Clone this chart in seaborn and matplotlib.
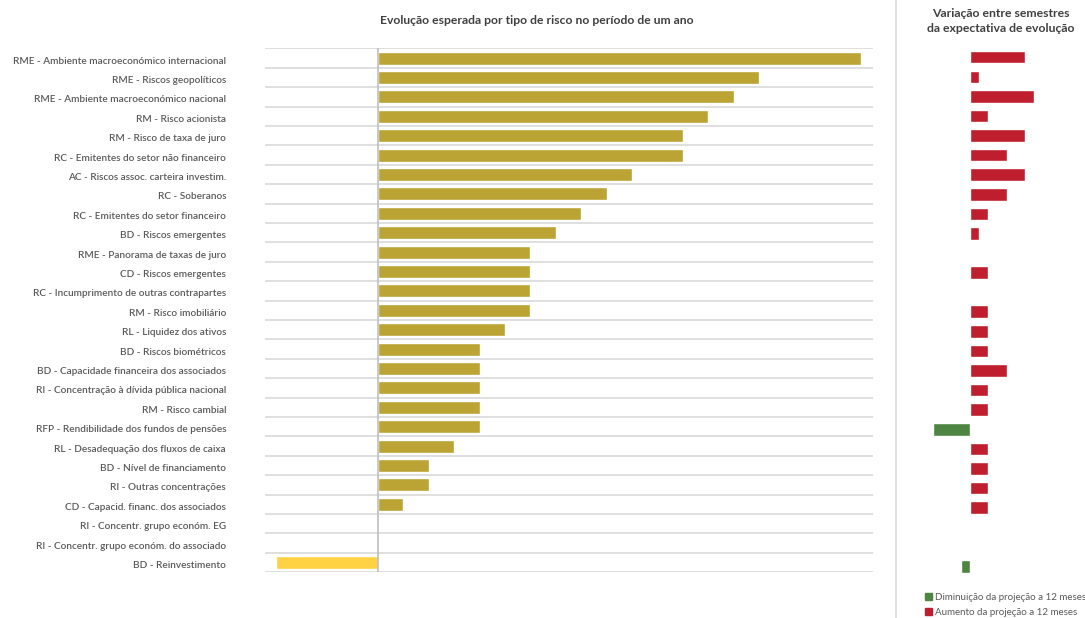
import matplotlib
matplotlib.use("Agg")
import matplotlib.pyplot as plt
from matplotlib.patches import Patch
import seaborn as sns
import pandas as pd

categories = [
    "RME - Ambiente macroeconómico internacional",
    "RME - Riscos geopolíticos",
    "RME - Ambiente macroeconómico nacional",
    "RM - Risco acionista",
    "RM - Risco de taxa de juro",
    "RC - Emitentes do setor não financeiro",
    "AC - Riscos assoc. carteira investim.",
    "RC - Soberanos",
    "RC - Emitentes do setor financeiro",
    "BD - Riscos emergentes",
    "RME - Panorama de taxas de juro",
    "CD - Riscos emergentes",
    "RC - Incumprimento de outras contrapartes",
    "RM - Risco imobiliário",
    "RL - Liquidez dos ativos",
    "BD - Riscos biométricos",
    "BD - Capacidade financeira dos associados",
    "RI - Concentração à dívida pública nacional",
    "RM - Risco cambial",
    "RFP - Rendibilidade dos fundos de pensões",
    "RL - Desadequação dos fluxos de caixa",
    "BD - Nível de financiamento",
    "RI - Outras concentrações",
    "CD - Capacid. financ. dos associados",
    "RI - Concentr. grupo económ. EG",
    "RI - Concentr. grupo económ. do associado",
    "BD - Reinvestimento",
]

expected = [19, 15, 14, 13, 12, 12, 10, 9, 8, 7, 6, 6, 6, 6, 5, 4, 4, 4, 4, 4,
            3, 2, 2, 1, 0, 0, -4]

variation = [6, 1, 7, 2, 6, 4, 6, 4, 2, 1, 0, 2, 0, 2, 2, 2, 4, 2, 2, -4,
             2, 2, 2, 2, 0, 0, -1]

title_main = "Evolução esperada por tipo de risco no período de um ano"
title_side = "Variação entre semestres\nda expectativa de evolução"
legend_labels = ["Diminuição da projeção a 12 meses", "Aumento da projeção a 12 meses"]

GOLD = "#BBA334"
YELLOW = "#FFD243"
RED = "#BE1E2D"
GREEN = "#4E8542"
TEXT = "#595959"
GRID = "#D9D9D9"

sns.set_theme(style="white")
plt.rcParams["font.family"] = ["Lato", "DejaVu Sans"]

df = pd.DataFrame({"cat": categories, "exp": expected, "var": variation})

W, H = 1085, 618
fig = plt.figure(figsize=(W / 100, H / 100), dpi=100)

def box(x0, y0, x1, y1):
    return [x0 / W, 1 - y1 / H, (x1 - x0) / W, (y1 - y0) / H]

# main panel: expected evolution per risk type
ax = fig.add_axes(box(265, 48.3, 873, 572.3))
main_colors = [GOLD if v >= 0 else YELLOW for v in expected]
sns.barplot(data=df, x="exp", y="cat", hue="cat", palette=main_colors,
            legend=False, width=0.67, orient="h", ax=ax, saturation=1)
ax.set_xlim(-4.45, 19.49)
ax.set_ylim(len(categories) - 0.5, -0.5)
for b in range(len(categories) + 1):
    ax.axhline(b - 0.5, color=GRID, lw=1.2, zorder=0)
ax.axvline(0, color="#BFBFBF", lw=1.2, zorder=3)
for s in ax.spines.values():
    s.set_visible(False)
ax.set_xticks([])
ax.set_xlabel("")
ax.set_ylabel("")
ax.tick_params(axis="y", length=0, pad=28, labelsize=7.2, labelcolor=TEXT)
shift = matplotlib.transforms.ScaledTranslation(0, -2 / 100, fig.dpi_scale_trans)
for t in ax.get_yticklabels():
    t.set_fontweight("semibold")
    t.set_transform(t.get_transform() + shift)
fig.text(537 / W, 1 - 20 / H, title_main, ha="center", va="center",
         fontsize=8.7, fontweight="bold", color="#404040")

# side panel: change between semesters
ax2 = fig.add_axes(box(900, 47.4, 1085, 576.1))
side_colors = [GREEN if v < 0 else RED for v in variation]
sns.barplot(data=df, x="var", y="cat", hue="cat", palette=side_colors,
            legend=False, width=0.64, orient="h", ax=ax2, saturation=1)
ax2.set_xlim(-70 / 9.2, 115 / 9.2)
ax2.set_ylim(len(categories) - 0.5, -0.5)
for s in ax2.spines.values():
    s.set_visible(False)
ax2.set_xticks([])
ax2.set_yticks([])
ax2.set_xlabel("")
ax2.set_ylabel("")
fig.text(1001 / W, 1 - 21 / H, title_side, ha="center", va="center",
         fontsize=8.8, fontweight="bold", color="#404040", linespacing=1.55)

# separator between panels
fig.add_artist(plt.Line2D([896 / W, 896 / W], [0, 1], color="#D9D9D9", lw=1.2))

handles = [Patch(color=GREEN), Patch(color=RED)]
fig.legend(handles, legend_labels, loc="upper left",
           bbox_to_anchor=(921 / W, 1 - 589 / H), frameon=False,
           fontsize=7, labelcolor=TEXT, handlelength=0.7, handleheight=0.7,
           handletextpad=0.3, labelspacing=0.6, borderaxespad=0)

fig.savefig("out.png", dpi=100)
